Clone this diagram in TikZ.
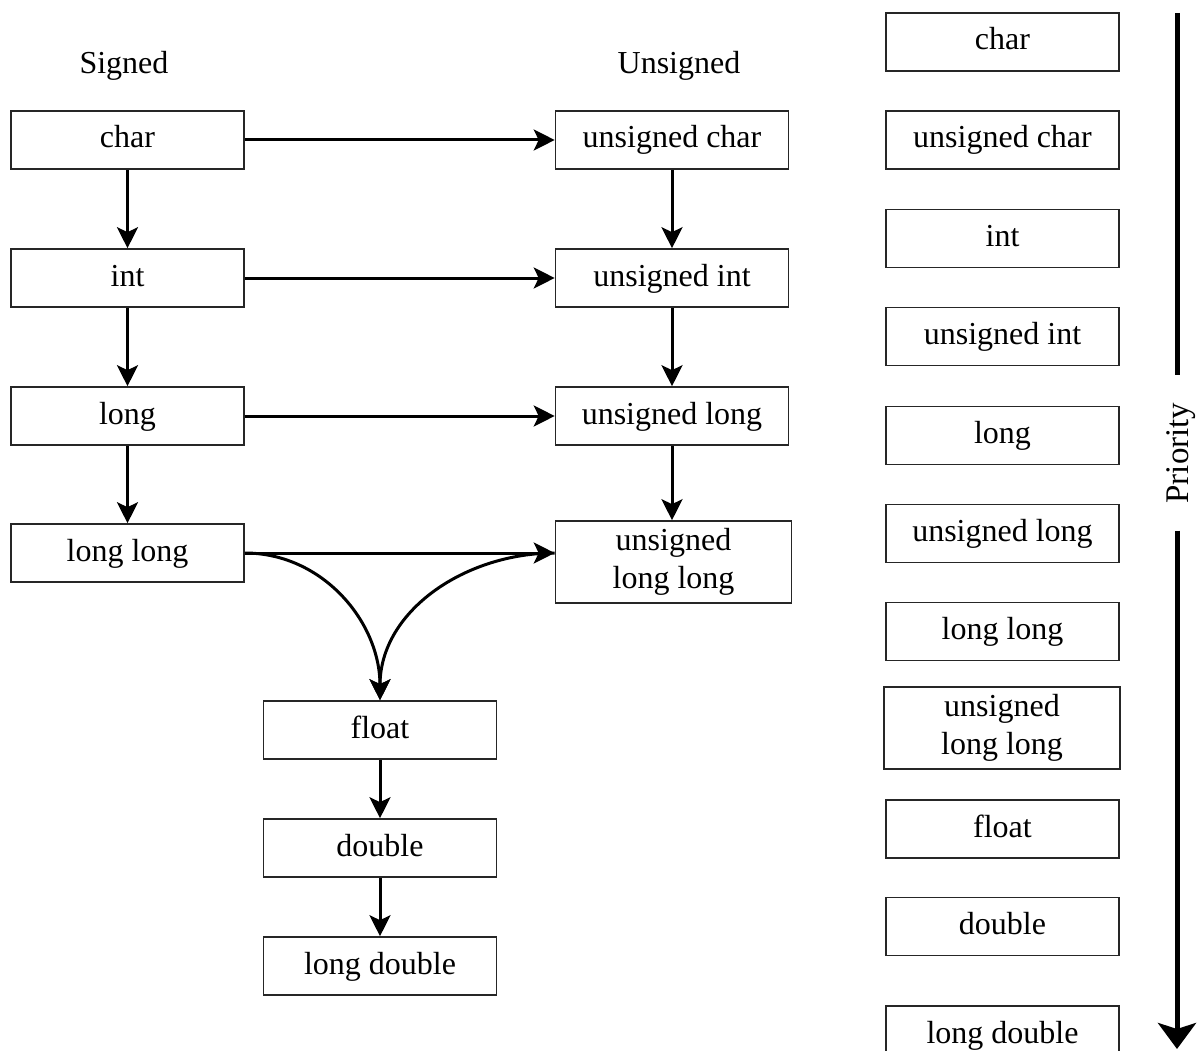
\documentclass[tikz,border=0pt]{standalone}
\usepackage{fontspec}
\setmainfont{Liberation Serif}
\usetikzlibrary{arrows.meta}
\newcommand\mainfs{\fontsize{32}{38}\selectfont}
\tikzset{
  box/.style={draw=black!85, line width=1.6pt, minimum width=233pt, minimum height=58pt,
    inner sep=0pt, text height=23pt, text depth=7pt, font=\mainfs},
  boxtwo/.style={draw=black!85, line width=1.6pt, minimum width=236pt, minimum height=82pt,
    inner sep=0pt, align=center, font=\mainfs},
  arr/.style={line width=3pt, -{Stealth[length=21pt,width=21pt,inset=5pt]}},
  bigarr/.style={line width=5pt, -{Stealth[length=26pt,width=38pt,inset=6pt]}},
  hdr/.style={font=\mainfs, anchor=base, inner sep=0pt},
}
\begin{document}
\begin{tikzpicture}[x=1pt,y=-1pt]
\useasboundingbox (0,0) rectangle (1204,1051);
\clip (0,0) rectangle (1204,1051);
% headers
\node[hdr] (hs) at (124,74) {Signed};
\node[hdr] (hu) at (679,74) {Unsigned};
% signed column
\node[box] (s1) at (127.5,140) {char};
\node[box] (s2) at (127.5,278) {int};
\node[box] (s3) at (127.5,416) {long};
\node[box] (s4) at (127.5,553) {long long};
% unsigned column
\node[box] (u1) at (672,140) {unsigned char};
\node[box] (u2) at (672,278) {unsigned int};
\node[box] (u3) at (672,416) {unsigned long};
\node[boxtwo] (u4) at (673.5,562) {unsigned\\long long};
% floating
\node[box] (f1) at (380,730) {float};
\node[box] (f2) at (380,848) {double};
\node[box] (f3) at (380,966) {long double};
% connectors
\draw[arr] (s1) -- (s2);
\draw[arr] (s2) -- (s3);
\draw[arr] (s3) -- (s4);
\draw[arr] (u1) -- (u2);
\draw[arr] (u2) -- (u3);
\draw[arr] (u3) -- (u3 |- u4.north);
\draw[arr] (s1) -- (u1);
\draw[arr] (s2) -- (u2);
\draw[arr] (s3) -- (u3);
\coordinate (u4in) at (s4.east -| u4.west);
\draw[arr] (s4.east) -- (u4in);
\draw[arr] (s4.east) to[out=0,in=90] (f1.north);
\draw[arr] (u4in) to[out=180,in=90] (f1.north);
\draw[arr] (f1) -- (f2);
\draw[arr] (f2) -- (f3);
% priority list
\node[box] (r1) at (1002.5,42) {char};
\node[box] (r2) at (1002.5,140) {unsigned char};
\node[box] (r3) at (1002.5,238.5) {int};
\node[box] (r4) at (1002.5,336.5) {unsigned int};
\node[box] (r5) at (1002.5,435.5) {long};
\node[box] (r6) at (1002.5,533.5) {unsigned long};
\node[box] (r7) at (1002.5,631.5) {long long};
\node[boxtwo] (r8) at (1002,728) {unsigned\\long long};
\node[box] (r9) at (1002.5,829) {float};
\node[box] (r10) at (1002.5,926.5) {double};
\node[box] (r11) at (1002.5,1035) {long double};
% priority arrow
\node[rotate=90, font=\fontsize{33}{38}\selectfont, inner xsep=27pt, inner ysep=0pt] (prio) at (1181,453) {Priority};
\coordinate (ptop) at (1177,13);
\coordinate (pbot) at (1177,1049);
\draw[line width=5pt] (ptop) -- (ptop |- prio.east);
\draw[bigarr] (pbot |- prio.west) -- (pbot);
\end{tikzpicture}
\end{document}
